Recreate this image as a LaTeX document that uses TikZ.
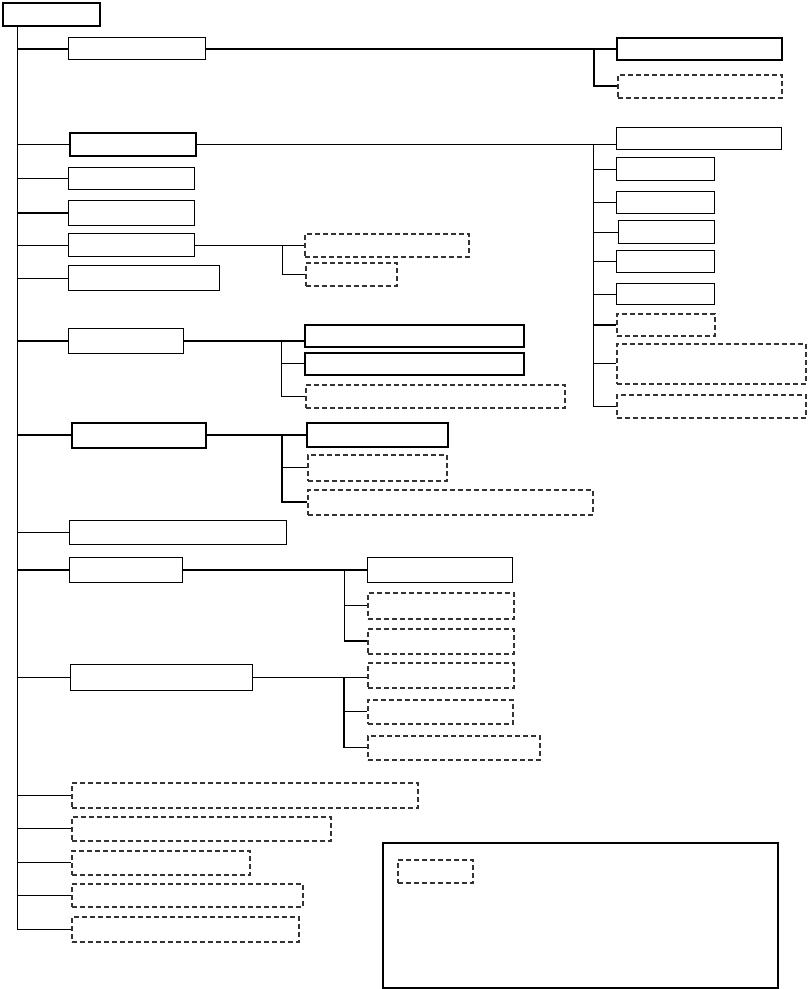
\documentclass[tikz,border=0pt]{standalone}
\usetikzlibrary{positioning}
\tikzset{
  blk/.style  = {draw, rectangle, line width=1pt, anchor=north west, inner sep=0pt},
  blkb/.style = {blk, line width=1.8pt},
  opt/.style  = {draw=black!80, rectangle, line width=1.5pt, anchor=north west,
                 inner sep=0pt, dash pattern=on 5pt off 3pt},
  sz/.style 2 args = {minimum width=#1pt, minimum height=#2pt},
  ln/.style   = {line width=0.9pt},
  lnb/.style  = {line width=2pt}
}
\begin{document}
\begin{tikzpicture}[x=1pt, y=-1pt]
  \useasboundingbox (0,0) rectangle (807,989);

  % ── Root and trunk ────────────────────────────────────────────────────────
  \node[blkb, sz={97}{23}] (Root) at (2,2) {};
  \coordinate (Trunk) at (17,25);

  % ── First level (left column) ─────────────────────────────────────────────
  \node[blk,  sz={137}{22}] (A) at (68,37)  {};
  \node[blkb, sz={126}{23}] (C) at (69,132) {};
  \node[blk,  sz={126}{22}] (E) at (68,167) {};
  \node[blk,  sz={126}{25}] (F) at (68,200) {};
  \node[blk,  sz={126}{23}] (G) at (68,233) {};
  \node[blk,  sz={151}{25}] (H) at (68,265) {};
  \node[blk,  sz={115}{25}] (I) at (68,328) {};
  \node[blkb, sz={134}{25}] (K) at (71,422) {};
  \node[blk,  sz={217}{24}] (L) at (69,520) {};
  \node[blk,  sz={113}{25}] (J) at (69,557) {};
  \node[blk,  sz={182}{26}] (M) at (70,664) {};
  \node[opt,  sz={346}{25}] (N1) at (71,782) {};
  \node[opt,  sz={259}{24}] (N2) at (71,816) {};
  \node[opt,  sz={178}{24}] (N3) at (71,850) {};
  \node[opt,  sz={231}{23}] (N4) at (71,883) {};
  \node[opt,  sz={227}{25}] (N5) at (71,916) {};

  % ── Second level ──────────────────────────────────────────────────────────
  \node[blkb, sz={165}{22}] (B1) at (616,37) {};
  \node[opt,  sz={164}{23}] (B2) at (617,74) {};

  \node[blk, sz={165}{22}] (D1) at (616,127) {};
  \node[blk, sz={98}{23}]  (D2) at (616,157) {};
  \node[blk, sz={98}{22}]  (D3) at (616,191) {};
  \node[blk, sz={96}{23}]  (D4) at (618,220) {};
  \node[blk, sz={98}{22}]  (D5) at (616,250) {};
  \node[blk, sz={98}{21}]  (D6) at (616,283) {};
  \node[opt, sz={98}{22}]  (D7) at (616,313) {};
  \node[opt, sz={189}{40}] (D8) at (616,343) {};
  \node[opt, sz={189}{23}] (D9) at (616,394) {};

  \node[opt, sz={164}{23}] (G1) at (304,233) {};
  \node[opt, sz={91}{23}]  (G2) at (305,262) {};

  \node[blkb, sz={219}{22}] (I1) at (304,324) {};
  \node[blkb, sz={219}{22}] (I2) at (304,352) {};
  \node[opt,  sz={259}{23}] (I3) at (305,384) {};

  \node[blkb, sz={141}{24}] (K1) at (306,422) {};
  \node[opt,  sz={139}{26}] (K2) at (307,454) {};
  \node[opt,  sz={285}{25}] (K3) at (307,489) {};

  \node[blk, sz={145}{25}] (J1) at (367,557) {};
  \node[opt, sz={146}{26}] (J2) at (367,592) {};
  \node[opt, sz={146}{25}] (J3) at (367,628) {};

  \node[opt, sz={146}{25}] (M1) at (367,662) {};
  \node[opt, sz={145}{24}] (M2) at (367,699) {};
  \node[opt, sz={172}{24}] (M3) at (367,735) {};

  % ── Legend ────────────────────────────────────────────────────────────────
  \node[blkb, sz={395}{145}] (Legend) at (382,842) {};
  \node[opt,  sz={75}{23}]   (LegKey) at (397,859) {};

  % ── Bus positions ─────────────────────────────────────────────────────────
  \coordinate (Bbus) at (594,0);
  \coordinate (Dbus) at (593,0);
  \coordinate (Gbus) at (282,0);
  \coordinate (Ibus) at (281,0);
  \coordinate (Kbus) at (282,0);
  \coordinate (Jbus) at (344,0);
  \coordinate (Mbus) at (344,0);

  % ── Trunk connections ─────────────────────────────────────────────────────
  \draw[ln] (Trunk) -- (Trunk |- N5.west);
  \draw[lnb] (Trunk |- A.west) -- (A.west);
  \draw[ln]  (Trunk |- C.west) -- (C.west);
  \draw[ln]  (Trunk |- E.west) -- (E.west);
  \draw[lnb] (Trunk |- F.west) -- (F.west);
  \draw[ln]  (Trunk |- G.west) -- (G.west);
  \draw[ln]  (Trunk |- H.west) -- (H.west);
  \draw[lnb] (Trunk |- I.west) -- (I.west);
  \draw[lnb] (Trunk |- K.west) -- (K.west);
  \draw[ln]  (Trunk |- L.west) -- (L.west);
  \draw[lnb] (Trunk |- J.west) -- (J.west);
  \draw[ln]  (Trunk |- M.west) -- (M.west);
  \draw[ln]  (Trunk |- N1.west) -- (N1.west);
  \draw[ln]  (Trunk |- N2.west) -- (N2.west);
  \draw[ln]  (Trunk |- N3.west) -- (N3.west);
  \draw[ln]  (Trunk |- N4.west) -- (N4.west);
  \draw[ln]  (Trunk |- N5.west) -- (N5.west);

  % ── A group ───────────────────────────────────────────────────────────────
  \draw[lnb] (A.east) -- (A.east -| B1.west);
  \draw[lnb] (A.east -| Bbus) |- (B2.west);

  % ── C group ───────────────────────────────────────────────────────────────
  \draw[ln] (C.east) -- (C.east -| D1.west);
  \draw[ln] (C.east -| Dbus) |- (D9.west);
  \draw[ln] (Dbus |- D2.west) -- (D2.west);
  \draw[ln] (Dbus |- D3.west) -- (D3.west);
  \draw[ln] (Dbus |- D4.west) -- (D4.west);
  \draw[ln] (Dbus |- D5.west) -- (D5.west);
  \draw[ln] (Dbus |- D6.west) -- (D6.west);
  \draw[lnb] (Dbus |- D7.west) -- (D7.west);
  \draw[ln] (Dbus |- D8.west) -- (D8.west);

  % ── G group ───────────────────────────────────────────────────────────────
  \draw[ln] (G.east) -- (G.east -| G1.west);
  \draw[ln] (G.east -| Gbus) |- (G2.west);

  % ── I group ───────────────────────────────────────────────────────────────
  \draw[lnb] (I.east) -- (I.east -| I1.west);
  \draw[ln]  (I.east -| Ibus) |- (I3.west);
  \draw[ln]  (Ibus |- I2.west) -- (I2.west);

  % ── K group ───────────────────────────────────────────────────────────────
  \draw[lnb] (K.east) -- (K.east -| K1.west);
  \draw[lnb] (K.east -| Kbus) |- (K3.west);
  \draw[ln]  (Kbus |- K2.west) -- (K2.west);

  % ── J group ───────────────────────────────────────────────────────────────
  \draw[lnb] (J.east) -- (J.east -| J1.west);
  \draw[ln]  (J.east -| Jbus) -- (Jbus |- J3.west);
  \draw[ln]  (Jbus |- J2.west) -- (J2.west);
  \draw[lnb] (Jbus |- J3.west) -- (J3.west);

  % ── M group ───────────────────────────────────────────────────────────────
  \draw[ln]  (M.east) -- (M.east -| M1.west);
  \draw[lnb] (M.east -| Mbus) -- (Mbus |- M3.west);
  \draw[ln]  (Mbus |- M2.west) -- (M2.west);
  \draw[ln]  (Mbus |- M3.west) -- (M3.west);

\end{tikzpicture}
\end{document}
